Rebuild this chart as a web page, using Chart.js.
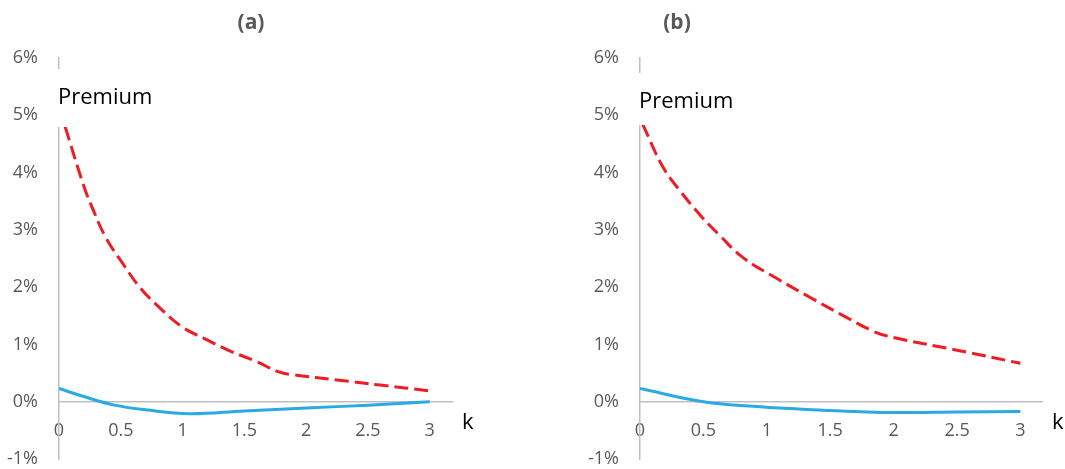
<!DOCTYPE html>
<html>
<head>
<meta charset="utf-8">
<script src="https://cdn.jsdelivr.net/npm/chart.js@4/dist/chart.umd.min.js"></script>
<style>
  html, body { margin: 0; padding: 0; background: #fff; }
  #wrap { position: relative; width: 1065px; height: 469px; overflow: hidden; }
  canvas { position: absolute; top: 0; }
</style>
</head>
<body>
<div id="wrap">
  <canvas id="chartA" width="530" height="469" style="left:0px"></canvas>
  <canvas id="chartB" width="484" height="469" style="left:581px"></canvas>
</div>
<script>
// 刻度
const kTicks = [0, 0.5, 1, 1.5, 2, 2.5, 3];
const yTicks = [-1, 0, 1, 2, 3, 4, 5, 6];

// (a) 红色虚线
const kRedA = [0.05, 0.2, 0.28, 0.38, 0.52, 0.66, 0.82, 1.0, 1.17, 1.39, 1.6, 1.78, 1.9, 2.25, 2.6, 3.0];
const redA = [4.8, 3.77, 3.33, 2.86, 2.4, 1.98, 1.63, 1.3, 1.11, 0.88, 0.7, 0.52, 0.47, 0.38, 0.29, 0.19];
// (a) 蓝色实线
const kBlueA = [0, 0.2, 0.45, 0.7, 1.05, 1.5, 2.0, 2.5, 3.0];
const blueA = [0.23, 0.09, -0.06, -0.14, -0.21, -0.16, -0.11, -0.06, 0.0];

// (b) 红色虚线
const kRedB = [0.02, 0.18, 0.32, 0.47, 0.63, 0.81, 1.08, 1.35, 1.58, 1.84, 2.0, 2.5, 3.0];
const redB = [4.85, 4.1, 3.67, 3.27, 2.9, 2.52, 2.15, 1.81, 1.53, 1.23, 1.12, 0.9, 0.67];
// (b) 蓝色实线
const kBlueB = [0, 0.5, 0.95, 1.35, 1.7, 2.0, 2.5, 3.0];
const blueB = [0.23, 0.0, -0.09, -0.14, -0.17, -0.19, -0.18, -0.17];

const toPoints = (xs, ys) => xs.map((x, i) => ({ x: x, y: ys[i] }));

// 标题、Premium、k 文本
const decor = {
    id: 'decor',
    afterDraw(chart, args, opts) {
        const ctx = chart.ctx;
        const area = chart.chartArea;
        const xs = chart.scales.x, ys = chart.scales.y;
        ctx.save();
        ctx.fillStyle = '#fff';
        ctx.fillRect(area.left - 4, opts.gapTop, 110, opts.gapBottom - opts.gapTop);
        ctx.fillStyle = '#000';
        ctx.font = '22px "Open Sans"';
        ctx.textAlign = 'left';
        ctx.textBaseline = 'alphabetic';
        ctx.fillText('Premium', area.left - 1, opts.premiumY);
        ctx.fillText('k', xs.right + 10, ys.getPixelForValue(0) + 27);
        ctx.fillStyle = '#595959';
        ctx.font = 'bold 21px "Open Sans"';
        ctx.textAlign = 'center';
        ctx.fillText(opts.title, opts.titleX, 29);
        ctx.restore();
    }
};

function makeChart(id, red, blue, xMax, rightPad, decorOpts) {
    return new Chart(document.getElementById(id), {
        type: 'line',
        data: {
            datasets: [
                {
                    data: red,
                    borderColor: '#ee1c25',
                    borderWidth: 3,
                    borderDash: [14, 6],
                    pointRadius: 0,
                    tension: 0.4,
                    fill: false
                },
                {
                    data: blue,
                    borderColor: '#29abe2',
                    borderWidth: 3,
                    pointRadius: 0,
                    tension: 0.4,
                    fill: false
                }
            ]
        },
        options: {
            responsive: false,
            animation: false,
            layout: { padding: { left: 0, right: rightPad, top: 58, bottom: 10 } },
            plugins: {
                legend: { display: false },
                tooltip: { enabled: false },
                decor: decorOpts
            },
            scales: {
                x: {
                    type: 'linear',
                    position: { y: 0 },
                    min: 0,
                    max: xMax,
                    afterBuildTicks: (s) => { s.ticks = kTicks.map(v => ({ value: v })); },
                    afterFit: (s) => { s.height = 0; },
                    grid: { display: false, drawTicks: false },
                    border: { display: true, color: '#bfbfbf', width: 1.5 },
                    ticks: {
                        padding: 18,
                        color: '#595959',
                        font: { family: 'Open Sans', size: 18 },
                        maxRotation: 0,
                        autoSkip: false,
                        callback: (v) => String(v)
                    }
                },
                y: {
                    min: -1,
                    max: 6,
                    afterBuildTicks: (s) => { s.ticks = yTicks.map(v => ({ value: v })); },
                    afterFit: (s) => { s.width = 59; s.paddingTop = 0; s.paddingBottom = 0; },
                    grid: { display: false, drawTicks: false },
                    border: { display: true, color: '#bfbfbf', width: 1.5 },
                    ticks: {
                        padding: 21,
                        color: '#595959',
                        font: { family: 'Open Sans', size: 18 },
                        callback: (v) => v + '%'
                    }
                }
            }
        },
        plugins: [decor]
    });
}

makeChart('chartA', toPoints(kRedA, redA), toPoints(kBlueA, blueA), 3.18, 78,
    { title: '(a)', titleX: 251, gapTop: 69, gapBottom: 127, premiumY: 104 });
makeChart('chartB', toPoints(kRedB, redB), toPoints(kBlueB, blueB), 3.17, 23,
    { title: '(b)', titleX: 96, gapTop: 73, gapBottom: 125, premiumY: 108 });
</script>
</body>
</html>
